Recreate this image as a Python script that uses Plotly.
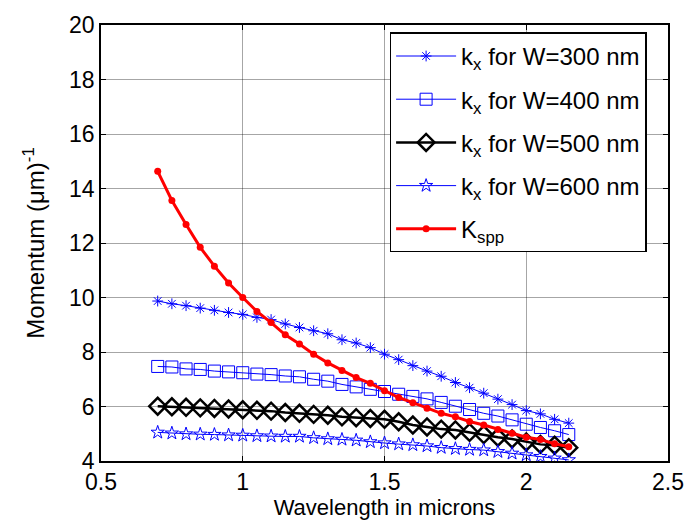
import plotly.graph_objects as go

# Wavelength samples (microns)
wavelength = [0.70, 0.75, 0.80, 0.85, 0.90, 0.95, 1.00, 1.05, 1.10, 1.15,
              1.20, 1.25, 1.30, 1.35, 1.40, 1.45, 1.50, 1.55, 1.60, 1.65,
              1.70, 1.75, 1.80, 1.85, 1.90, 1.95, 2.00, 2.05, 2.10, 2.15]

# Propagation constant k_x for each waveguide width
kx_w300 = [9.87, 9.77, 9.70, 9.61, 9.53, 9.45, 9.38, 9.27, 9.19, 9.03,
           8.90, 8.78, 8.67, 8.45, 8.33, 8.16, 7.92, 7.72, 7.50, 7.30,
           7.11, 6.88, 6.69, 6.49, 6.27, 6.07, 5.85, 5.73, 5.53, 5.39]
kx_w400 = [7.47, 7.45, 7.38, 7.36, 7.30, 7.27, 7.24, 7.19, 7.17, 7.12,
           7.09, 7.00, 6.93, 6.81, 6.72, 6.63, 6.55, 6.45, 6.37, 6.28,
           6.15, 6.01, 5.89, 5.75, 5.65, 5.51, 5.35, 5.23, 5.11, 4.97]
kx_w500 = [6.01, 5.99, 5.97, 5.95, 5.93, 5.91, 5.88, 5.86, 5.83, 5.78,
           5.75, 5.71, 5.68, 5.62, 5.59, 5.56, 5.53, 5.44, 5.32, 5.25,
           5.17, 5.14, 5.05, 4.97, 4.87, 4.81, 4.70, 4.61, 4.58, 4.49]
kx_w600 = [5.05, 5.02, 4.99, 4.98, 4.97, 4.95, 4.94, 4.92, 4.91, 4.90,
           4.90, 4.85, 4.81, 4.79, 4.76, 4.70, 4.66, 4.62, 4.59, 4.55,
           4.49, 4.45, 4.42, 4.40, 4.34, 4.28, 4.22, 4.16, 4.10, 4.04]
# Surface plasmon polariton momentum
k_spp = [14.63, 13.56, 12.68, 11.84, 11.15, 10.53, 10.00, 9.49, 9.08, 8.63,
         8.29, 7.92, 7.60, 7.32, 7.06, 6.85, 6.58, 6.33, 6.14, 5.94,
         5.75, 5.62, 5.45, 5.32, 5.16, 5.02, 4.87, 4.79, 4.63, 4.52]

x_ticks = [0.5, 1, 1.5, 2, 2.5]
y_ticks = [4, 6, 8, 10, 12, 14, 16, 18, 20]

FONT = "Liberation Sans, Arial, sans-serif"

fig = go.Figure()

fig.add_trace(go.Scatter(
    x=wavelength, y=kx_w300, mode="lines+markers",
    name="k<sub>x</sub> for W=300 nm", legendgroup="w300",
    line=dict(color="#0000ff", width=1),
    marker=dict(symbol="asterisk-open", size=9, color="#0000ff",
                line=dict(color="#0000ff", width=1)),
))
fig.add_trace(go.Scatter(
    x=wavelength, y=kx_w400, mode="lines+markers",
    name="k<sub>x</sub> for W=400 nm", legendgroup="w400",
    line=dict(color="#0000ff", width=1),
    marker=dict(symbol="square-open", size=12, color="#0000ff",
                line=dict(color="#0000ff", width=1)),
))
fig.add_trace(go.Scatter(
    x=wavelength, y=kx_w500, mode="lines+markers",
    name="k<sub>x</sub> for W=500 nm", legendgroup="w500",
    line=dict(color="black", width=2.5),
    marker=dict(symbol="diamond-open", size=13, color="black",
                line=dict(color="black", width=2.5)),
))
fig.add_trace(go.Scatter(
    x=wavelength, y=kx_w600, mode="lines+markers",
    name="k<sub>x</sub> for W=600 nm", legendgroup="w600",
    line=dict(color="#0000ff", width=1),
    marker=dict(symbol="star-open", size=10, color="#0000ff",
                line=dict(color="#0000ff", width=1)),
))
fig.add_trace(go.Scatter(
    x=wavelength, y=k_spp, mode="lines+markers",
    name="K<sub>spp</sub>", legendgroup="spp",
    line=dict(color="#ff0000", width=3),
    marker=dict(symbol="circle", size=7, color="#ff0000"),
))

axis_common = dict(
    showline=True, linecolor="black", linewidth=1.5, mirror="ticks",
    ticks="inside", ticklen=5, tickcolor="black",
    showgrid=True, gridcolor="rgba(0,0,0,0.35)", gridwidth=1,
    zeroline=False,
    tickfont=dict(family=FONT, size=23, color="black"),
)

fig.update_xaxes(
    range=[0.5, 2.5], tickvals=x_ticks, ticktext=[str(v) for v in x_ticks],
    title=dict(text="Wavelength in microns", standoff=0,
               font=dict(family=FONT, size=22, color="black")),
    **axis_common,
)
fig.update_yaxes(
    range=[4, 20], tickvals=y_ticks,
    title=dict(text="Momentum (\u03bcm)<sup>-1</sup>", standoff=18,
               font=dict(family=FONT, size=24, color="black")),
    **axis_common,
)

fig.update_layout(
    width=696, height=523,
    margin=dict(l=101, r=19, t=18, b=58),
    paper_bgcolor="white", plot_bgcolor="white",
    font=dict(family=FONT, color="black"),
    legend=dict(
        x=0.509, y=0.983, xanchor="left", yanchor="top",
        bgcolor="white", bordercolor="black", borderwidth=1.5,
        font=dict(family=FONT, size=24, color="black"),
        itemwidth=60, tracegroupgap=9,
    ),
    showlegend=True,
)

fig.write_html("out.html")
